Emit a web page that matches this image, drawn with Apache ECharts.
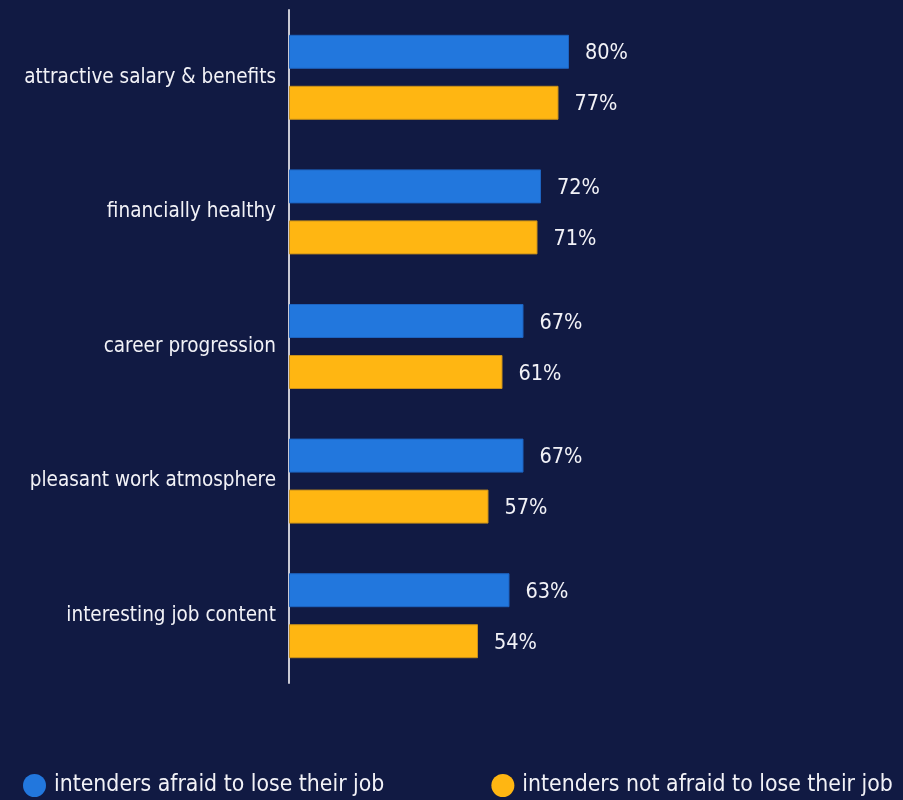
<!DOCTYPE html>
<html>
<head>
<meta charset="utf-8">
<script src="https://cdn.jsdelivr.net/npm/echarts@6/dist/echarts.min.js"></script>
<style>
  html, body { margin: 0; padding: 0; background: #111a43; }
  #chart { width: 903px; height: 800px; }
</style>
</head>
<body>
<div id="chart"></div>
<script>
const categories = [
  'attractive salary & benefits',
  'financially healthy',
  'career progression',
  'pleasant work atmosphere',
  'interesting job content'
];
const afraidValues = [80, 72, 67, 67, 63];
const notAfraidValues = [77, 71, 61, 57, 54];
const seriesNames = ['intenders afraid to lose their job', 'intenders not afraid to lose their job'];

const FONT = 'DejaVu Sans Condensed';
const TEXT = '#f2f2f7';

const chart = echarts.init(document.getElementById('chart'));
chart.setOption({
  backgroundColor: '#111a43',
  animation: false,
  textStyle: { fontFamily: FONT },
  grid: { left: 289, top: 10, width: 350, height: 673, containLabel: false },
  xAxis: {
    type: 'value', min: 0, max: 100,
    show: false
  },
  yAxis: {
    type: 'category',
    data: categories,
    inverse: true,
    axisLine: { show: true, lineStyle: { color: '#c9c9d3', width: 2 } },
    axisTick: { show: false },
    axisLabel: { color: TEXT, fontSize: 20.5, fontFamily: FONT, margin: 13 }
  },
  legend: {
    bottom: -2, left: 18, width: 885,
    orient: 'horizontal',
    itemGap: 107,
    itemWidth: 23, itemHeight: 23,
    icon: 'circle',
    itemStyle: { borderWidth: 0 },
    textStyle: { color: TEXT, fontSize: 22.8, fontFamily: FONT, padding: [0, 0, 0, 3] },
    data: seriesNames
  },
  series: [
    {
      name: seriesNames[0], type: 'bar', data: afraidValues,
      barWidth: 34, barGap: '50%', barCategoryGap: '37%',
      itemStyle: { color: '#2277dd', borderColor: '#1d63c0', borderWidth: 1 },
      label: { show: true, position: 'right', distance: 16, offset: [0, 2], formatter: '{c}%', color: TEXT, fontSize: 21.5, fontFamily: FONT }
    },
    {
      name: seriesNames[1], type: 'bar', data: notAfraidValues,
      barWidth: 34,
      itemStyle: { color: '#ffb612', borderColor: '#c8901a', borderWidth: 1 },
      label: { show: true, position: 'right', distance: 16, offset: [0, 2], formatter: '{c}%', color: TEXT, fontSize: 21.5, fontFamily: FONT }
    }
  ]
});
</script>
</body>
</html>
